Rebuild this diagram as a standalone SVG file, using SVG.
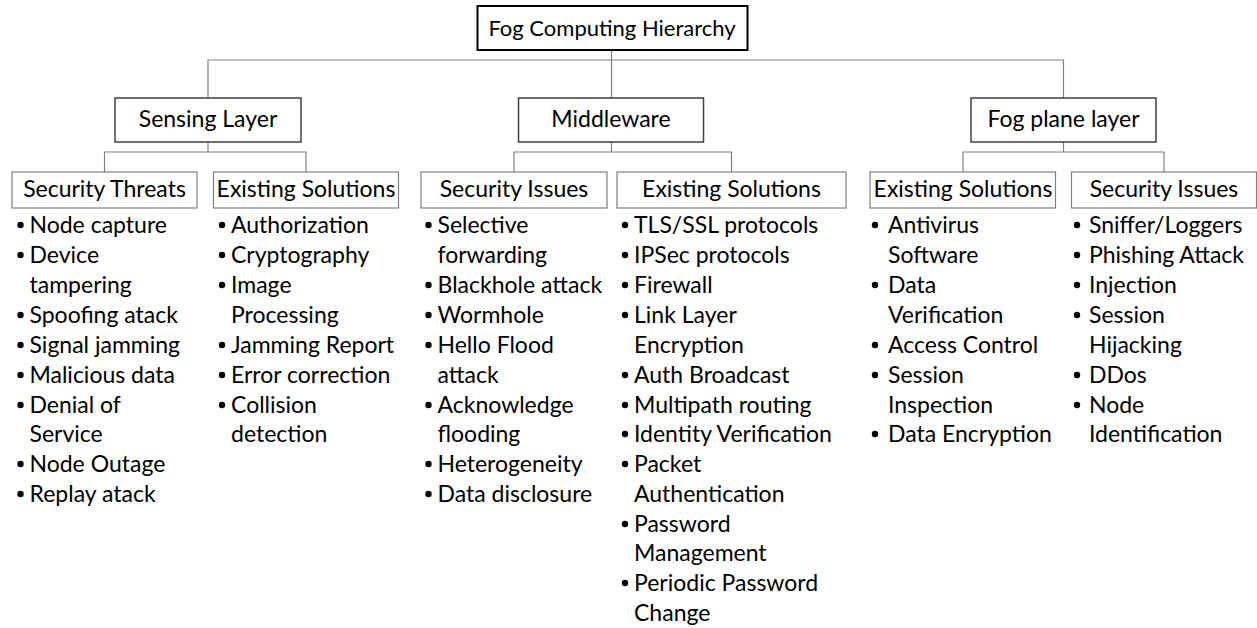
<svg xmlns="http://www.w3.org/2000/svg" width="1257" height="628" viewBox="0 0 1257 628">
<style>
text{font-family:Lato,"Open Sans","Liberation Sans",sans-serif;font-size:23px;fill:#000}
.c{text-anchor:middle}
.t{font-size:22px}
.title{fill:#fff;stroke:#000;stroke-width:2}
.layer{fill:#fff;stroke:#404040;stroke-width:1.5}
.sub{fill:#fff;stroke:#7f7f7f;stroke-width:1.2}
.conn{fill:none;stroke:#808080;stroke-width:1.2}
.dot{fill:#000}
</style>
<rect width="1257" height="628" fill="#fff"/>
<g id="connectors">
<path class="conn" d="M208 98V60H1063.5V98M611.5 50V98"/>
<path class="conn" d="M208 142V152M104.5 172V152H306V172"/>
<path class="conn" d="M611.5 142V152M514 172V152H731.5V172"/>
<path class="conn" d="M1063.5 142V152M963 172V152H1164V172"/>
</g>
<g id="root"><rect class="title" x="477.5" y="6" width="270" height="44"/><text class="c t" x="612" y="36">Fog Computing Hierarchy</text></g>
<g id="sensing"><rect class="layer" x="115" y="98" width="186" height="44"/><text class="c" x="208" y="127">Sensing Layer</text></g>
<g id="middleware"><rect class="layer" x="518.5" y="98" width="185" height="44"/><text class="c" x="611" y="127">Middleware</text></g>
<g id="fogplane"><rect class="layer" x="971" y="98" width="185" height="44"/><text class="c" x="1063.5" y="127">Fog plane layer</text></g>
<g id="sensing-threats"><rect class="sub" x="12" y="172" width="185" height="36"/><text class="c" x="104.5" y="197">Security Threats</text>
<g><circle class="dot" cx="20.5" cy="225" r="3.2"/><circle class="dot" cx="20.5" cy="255" r="3.2"/><circle class="dot" cx="20.5" cy="315" r="3.2"/><circle class="dot" cx="20.5" cy="345" r="3.2"/><circle class="dot" cx="20.5" cy="375" r="3.2"/><circle class="dot" cx="20.5" cy="405" r="3.2"/><circle class="dot" cx="20.5" cy="464" r="3.2"/><circle class="dot" cx="20.5" cy="494" r="3.2"/></g>
<text x="29.5" y="233">Node capture</text><text x="29.5" y="263">Device</text><text x="29.5" y="293">tampering</text><text x="29.5" y="323">Spoofing atack</text><text x="29.5" y="353">Signal jamming</text><text x="29.5" y="383">Malicious data</text><text x="29.5" y="413">Denial of</text><text x="29.5" y="442">Service</text><text x="29.5" y="472">Node Outage</text><text x="29.5" y="502">Replay atack</text>
</g>
<g id="sensing-solutions"><rect class="sub" x="213.5" y="172" width="185" height="36"/><text class="c" x="306" y="197">Existing Solutions</text>
<g><circle class="dot" cx="222" cy="225" r="3.2"/><circle class="dot" cx="222" cy="255" r="3.2"/><circle class="dot" cx="222" cy="285" r="3.2"/><circle class="dot" cx="222" cy="345" r="3.2"/><circle class="dot" cx="222" cy="375" r="3.2"/><circle class="dot" cx="222" cy="405" r="3.2"/></g>
<text x="231" y="233">Authorization</text><text x="231" y="263">Cryptography</text><text x="231" y="293">Image</text><text x="231" y="323">Processing</text><text x="231" y="353">Jamming Report</text><text x="231" y="383">Error correction</text><text x="231" y="413">Collision</text><text x="231" y="442">detection</text>
</g>
<g id="middleware-issues"><rect class="sub" x="421" y="172" width="186" height="36"/><text class="c" x="514" y="197">Security Issues</text>
<g><circle class="dot" cx="428.5" cy="225" r="3.2"/><circle class="dot" cx="428.5" cy="285" r="3.2"/><circle class="dot" cx="428.5" cy="315" r="3.2"/><circle class="dot" cx="428.5" cy="345" r="3.2"/><circle class="dot" cx="428.5" cy="405" r="3.2"/><circle class="dot" cx="428.5" cy="464" r="3.2"/><circle class="dot" cx="428.5" cy="494" r="3.2"/></g>
<text x="437.5" y="233">Selective</text><text x="437.5" y="263">forwarding</text><text x="437.5" y="293">Blackhole attack</text><text x="437.5" y="323">Wormhole</text><text x="437.5" y="353">Hello Flood</text><text x="437.5" y="383">attack</text><text x="437.5" y="413">Acknowledge</text><text x="437.5" y="442">flooding</text><text x="437.5" y="472">Heterogeneity</text><text x="437.5" y="502">Data disclosure</text>
</g>
<g id="middleware-solutions"><rect class="sub" x="617" y="172" width="229" height="36"/><text class="c" x="731.5" y="197">Existing Solutions</text>
<g><circle class="dot" cx="625" cy="225" r="3.2"/><circle class="dot" cx="625" cy="255" r="3.2"/><circle class="dot" cx="625" cy="285" r="3.2"/><circle class="dot" cx="625" cy="315" r="3.2"/><circle class="dot" cx="625" cy="375" r="3.2"/><circle class="dot" cx="625" cy="405" r="3.2"/><circle class="dot" cx="625" cy="434" r="3.2"/><circle class="dot" cx="625" cy="464" r="3.2"/><circle class="dot" cx="625" cy="524" r="3.2"/><circle class="dot" cx="625" cy="583" r="3.2"/></g>
<text x="634" y="233">TLS/SSL protocols</text><text x="634" y="263">IPSec protocols</text><text x="634" y="293">Firewall</text><text x="634" y="323">Link Layer</text><text x="634" y="353">Encryption</text><text x="634" y="383">Auth Broadcast</text><text x="634" y="413">Multipath routing</text><text x="634" y="442">Identity Verification</text><text x="634" y="472">Packet</text><text x="634" y="502">Authentication</text><text x="634" y="532">Password</text><text x="634" y="561">Management</text><text x="634" y="591">Periodic Password</text><text x="634" y="621">Change</text>
</g>
<g id="fog-solutions"><rect class="sub" x="870" y="172" width="185.5" height="36"/><text class="c" x="963" y="197">Existing Solutions</text>
<g><circle class="dot" cx="875" cy="225" r="3.2"/><circle class="dot" cx="875" cy="285" r="3.2"/><circle class="dot" cx="875" cy="345" r="3.2"/><circle class="dot" cx="875" cy="375" r="3.2"/><circle class="dot" cx="875" cy="434" r="3.2"/></g>
<text x="888" y="233">Antivirus</text><text x="888" y="263">Software</text><text x="888" y="293">Data</text><text x="888" y="323">Verification</text><text x="888" y="353">Access Control</text><text x="888" y="383">Session</text><text x="888" y="413">Inspection</text><text x="888" y="442">Data Encryption</text>
</g>
<g id="fog-issues"><rect class="sub" x="1071.5" y="172" width="185" height="36"/><text class="c" x="1164" y="197">Security Issues</text>
<g><circle class="dot" cx="1077" cy="225" r="3.2"/><circle class="dot" cx="1077" cy="255" r="3.2"/><circle class="dot" cx="1077" cy="285" r="3.2"/><circle class="dot" cx="1077" cy="315" r="3.2"/><circle class="dot" cx="1077" cy="375" r="3.2"/><circle class="dot" cx="1077" cy="405" r="3.2"/></g>
<text x="1089" y="233">Sniffer/Loggers</text><text x="1089" y="263">Phishing Attack</text><text x="1089" y="293">Injection</text><text x="1089" y="323">Session</text><text x="1089" y="353">Hijacking</text><text x="1089" y="383">DDos</text><text x="1089" y="413">Node</text><text x="1089" y="442">Identification</text>
</g>
</svg>
